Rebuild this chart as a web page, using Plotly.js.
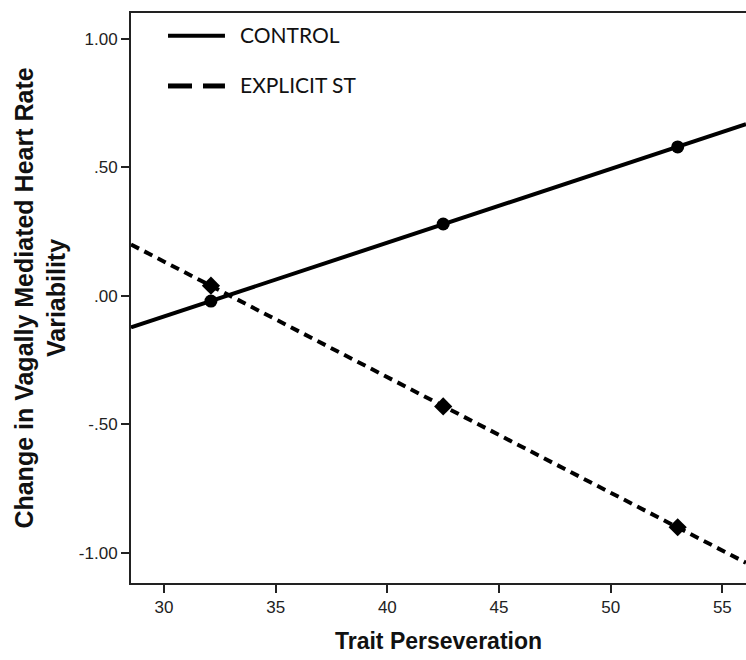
<!DOCTYPE html>
<html>
<head>
<meta charset="utf-8">
<script src="https://cdn.plot.ly/plotly-3.0.1.min.js"></script>
<style>html,body{margin:0;padding:0;background:#fff;}#chart{width:746px;height:660px;}</style>
</head>
<body>
<div id="chart"></div>
<script>
// Data
const seriesNames = ["CONTROL", "EXPLICIT ST"];
const traitX = [32.1, 42.5, 53.0];
const controlY = [-0.02, 0.28, 0.58];
const explicitY = [0.04, -0.43, -0.90];
const xTickVals = [30, 35, 40, 45, 50, 55];
const yTickVals = [-1.0, -0.5, 0.0, 0.5, 1.0];
const yTickText = ["-1.00", "-.50", ".00", ".50", "1.00"];
const xAxisRange = [28.52, 56.06];
const yAxisRange = [-1.117, 1.101];

function fitLine(xs, ys, ends) {
  const n = xs.length;
  const mx = xs.reduce((a, b) => a + b, 0) / n;
  const my = ys.reduce((a, b) => a + b, 0) / n;
  let sxy = 0, sxx = 0;
  for (let i = 0; i < n; i++) { sxy += (xs[i] - mx) * (ys[i] - my); sxx += (xs[i] - mx) ** 2; }
  const b = sxy / sxx, a = my - b * mx;
  return ends.map(x => a + b * x);
}

const tickFont = '"Liberation Sans", Arial, sans-serif';
const bold = '"Liberation Sans", Arial, sans-serif';
const legendFont = 'Lato, "Open Sans", sans-serif';

const traces = [
  { x: xAxisRange, y: fitLine(traitX, controlY, xAxisRange), mode: 'lines', name: seriesNames[0],
    line: { color: '#000', width: 4 }, showlegend: false, hoverinfo: 'skip' },
  { x: xAxisRange, y: fitLine(traitX, explicitY, xAxisRange), mode: 'lines', name: seriesNames[1],
    line: { color: '#000', width: 4, dash: '9px,6px' }, showlegend: false, hoverinfo: 'skip' },
  { x: traitX, y: controlY, mode: 'markers', name: seriesNames[0],
    marker: { symbol: 'circle', size: 13, color: '#000' }, showlegend: false },
  { x: traitX, y: explicitY, mode: 'markers', name: seriesNames[1],
    marker: { symbol: 'diamond', size: 14, color: '#000' }, showlegend: false }
];

const layout = {
  width: 746, height: 660,
  margin: { l: 131, r: 0, t: 13, b: 77 },
  paper_bgcolor: '#fff', plot_bgcolor: '#fff',
  showlegend: false,
  xaxis: {
    range: xAxisRange, tickvals: xTickVals, ticktext: xTickVals.map(String),
    showgrid: false, zeroline: false,
    showline: true, mirror: true, linecolor: '#222', linewidth: 2,
    ticks: 'outside', ticklen: 8, tickwidth: 2, tickcolor: '#222',
    tickfont: { family: tickFont, size: 17, color: '#222' },
    title: { text: 'Trait Perseveration', font: { family: bold, size: 23, color: '#111', weight: 'bold' }, standoff: 16 }
  },
  yaxis: {
    range: yAxisRange, tickvals: yTickVals, ticktext: yTickText,
    showgrid: false, zeroline: false,
    showline: true, mirror: false, linecolor: '#222', linewidth: 2,
    ticks: 'outside', ticklen: 8, tickwidth: 2, tickcolor: '#222',
    tickfont: { family: tickFont, size: 17, color: '#222' },
    title: { text: 'Change in Vagally Mediated Heart Rate<br>Variability', font: { family: bold, size: 25, color: '#111', weight: 'bold' }, standoff: 6 }
  },
  shapes: [
    { type: 'line', xref: 'paper', yref: 'paper', x0: 0.0602, x1: 0.1528, y0: 0.9602, y1: 0.9602, line: { color: '#000', width: 4 } },
    { type: 'line', xref: 'paper', yref: 'paper', x0: 0.0602, x1: 0.0992, y0: 0.872, y1: 0.872, line: { color: '#000', width: 5 } },
    { type: 'line', xref: 'paper', yref: 'paper', x0: 0.1171, x1: 0.1528, y0: 0.872, y1: 0.872, line: { color: '#000', width: 5 } }
  ],
  annotations: [
    { xref: 'paper', yref: 'paper', x: 0.1740, y: 0.9625, xanchor: 'left', yanchor: 'middle', showarrow: false,
      text: seriesNames[0], font: { family: legendFont, size: 21, color: '#111' } },
    { xref: 'paper', yref: 'paper', x: 0.1740, y: 0.8745, xanchor: 'left', yanchor: 'middle', showarrow: false,
      text: seriesNames[1], font: { family: legendFont, size: 21, color: '#111' } }
  ]
};

Plotly.newPlot('chart', traces, layout, { displayModeBar: false, staticPlot: true });
</script>
</body>
</html>
